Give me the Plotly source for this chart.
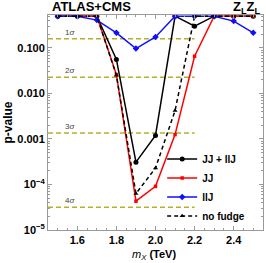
import math
import plotly.graph_objects as go

# ---- data ----
mx = [1.5, 1.6, 1.7, 1.8, 1.9, 2.0, 2.1, 2.2, 2.3, 2.4, 2.5]
p_combined = [0.5, 0.5, 0.5, 0.056, 3.1e-4, 1.2e-3, 0.5, 0.30, 0.5, 0.5, 0.5]
p_jj = [0.5, 0.5, 0.5, 0.026, 4.3e-5, 9.1e-5, 1.25e-3, 0.066, 0.5, 0.5, 0.5]
p_llj = [0.5, 0.5, 0.41, 0.215, 0.097, 0.175, 0.5, 0.5, 0.5, 0.39, 0.215]
p_nofudge = [0.5, 0.5, 0.5, 0.025, 6.3e-5, 2.3e-4, 4.2e-3, 0.5, 0.5, 0.5, 0.5]

sigma_labels = ["1", "2", "3", "4"]
sigma_p = [0.1587, 0.02275, 0.00135, 3.17e-5]
sigma_x = [1.45, 2.2]
sigma_label_x = 1.565

ytick_vals = [0.1, 0.01, 0.001, 1e-4, 1e-5]
ytick_text = ["0.100", "0.010", "0.001", "10<sup>−4</sup>", "10<sup>−5</sup>"]
xtick_vals = [1.6, 1.8, 2.0, 2.2, 2.4]
xtick_text = ["1.6", "1.8", "2.0", "2.2", "2.4"]

FONT = "Liberation Sans"
SIGMA_COLOR = "#b5b02a"
AX_COLOR = "#9a9a9a"

fig = go.Figure()

for p in sigma_p:
    fig.add_trace(go.Scatter(
        x=sigma_x, y=[p, p], mode="lines", showlegend=False, hoverinfo="skip",
        line=dict(color=SIGMA_COLOR, width=1.5, dash="5px,3px")))

fig.add_trace(go.Scatter(x=mx, y=p_combined, mode="lines+markers", name="JJ + llJ",
                         line=dict(color="black", width=1.5),
                         marker=dict(symbol="circle", size=5, color="black")))
fig.add_trace(go.Scatter(x=mx, y=p_jj, mode="lines+markers", name="JJ",
                         line=dict(color="#ff0000", width=1.5),
                         marker=dict(symbol="square", size=3.5, color="#ff0000")))
fig.add_trace(go.Scatter(x=mx, y=p_llj, mode="lines+markers", name="llJ",
                         line=dict(color="#1010ff", width=1.5),
                         marker=dict(symbol="diamond", size=5, color="#1010ff")))
fig.add_trace(go.Scatter(x=mx, y=p_nofudge, mode="lines+markers", name="no fudge",
                         line=dict(color="black", width=1.5, dash="4px,3px"),
                         marker=dict(symbol="triangle-up", size=4.5, color="black")))

for lab, p in zip(sigma_labels, sigma_p):
    fig.add_annotation(x=sigma_label_x, y=math.log10(p), xref="x", yref="y",
                       text=lab + "<i>σ</i>", showarrow=False, yanchor="bottom",
                       yshift=0, font=dict(family=FONT, size=8, color="#444444"))

fig.add_annotation(x=0.2, y=1.0, xref="paper", yref="paper", text="<b>ATLAS+CMS</b>",
                   showarrow=False, xanchor="center", yanchor="bottom", yshift=-1,
                   font=dict(family=FONT, size=13, color="black"))
fig.add_annotation(x=0.925, y=1.0, xref="paper", yref="paper",
                   text="<b>Z<sub>L</sub>Z<sub>L</sub></b>",
                   showarrow=False, xanchor="center", yanchor="bottom", yshift=-3,
                   font=dict(family=FONT, size=13, color="black"))
fig.add_annotation(x=0.495, y=-0.118, xref="paper", yref="paper",
                   text="<i>m<sub>X</sub></i> <b>(TeV)</b>",
                   showarrow=False, xanchor="center", yanchor="middle",
                   font=dict(family=FONT, size=11, color="black"))

fig.update_layout(
    width=266, height=263,
    margin=dict(l=48, r=3, t=15, b=33),
    paper_bgcolor="white", plot_bgcolor="white",
    font=dict(family=FONT, size=11, color="black"),
    showlegend=True,
    legend=dict(x=0.531, y=0.398, xanchor="left", yanchor="top",
                bgcolor="rgba(0,0,0,0)", font=dict(family=FONT, size=10, color="black", weight="bold"),
                itemwidth=30, tracegroupgap=0),
    xaxis=dict(range=[1.45, 2.55], tickvals=xtick_vals, ticktext=xtick_text,
               ticks="inside", ticklen=4, tickcolor=AX_COLOR, showline=True,
               linecolor=AX_COLOR, linewidth=1, mirror="allticks", showgrid=False,
               zeroline=False,
               tickfont=dict(family=FONT, size=11, weight="bold"),
               minor=dict(ticks="inside", ticklen=2, dtick=0.05, tickcolor=AX_COLOR, showgrid=False)),
    yaxis=dict(type="log", range=[-5, -0.275], tickvals=ytick_vals, ticktext=ytick_text,
               ticks="inside", ticklen=4, tickcolor=AX_COLOR, showline=True,
               linecolor=AX_COLOR, linewidth=1, mirror="allticks", showgrid=False,
               zeroline=False,
               tickfont=dict(family=FONT, size=11, weight="bold"),
               minor=dict(ticks="inside", ticklen=2, dtick="D1", tickcolor=AX_COLOR, showgrid=False),
               title=dict(text="<b>p‑value</b>", standoff=2,
                          font=dict(family=FONT, size=12))),
)

fig.write_html("out.html", config={"displayModeBar": False},
               post_script="document.body.style.margin='0px';")
